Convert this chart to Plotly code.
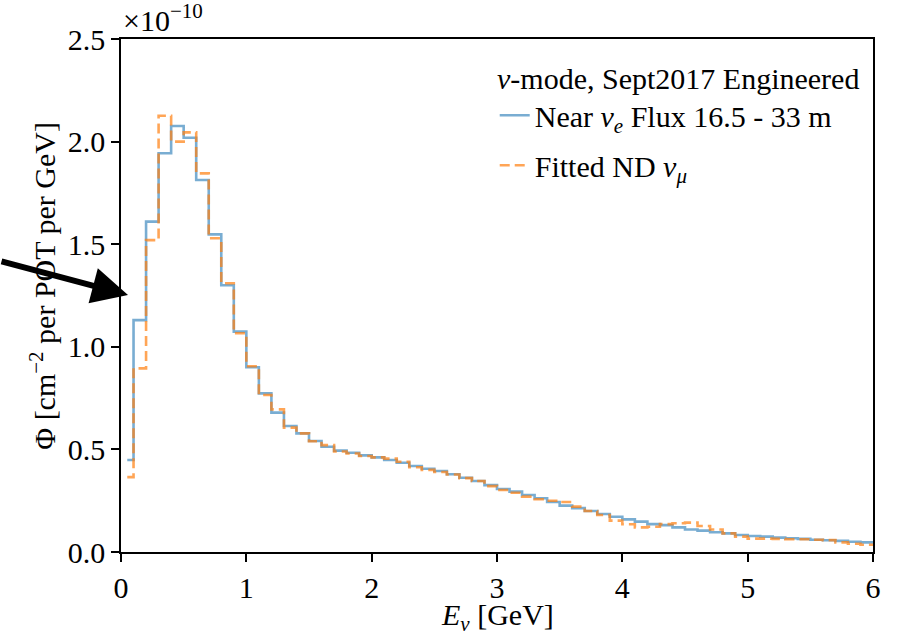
import numpy as np
import plotly.graph_objects as go

# Energy binning (GeV): 60 bins of 0.1 GeV
bin_edges = np.round(np.arange(0.0, 6.0001, 0.1), 2)

# Flux per bin, in units of 1e-10 cm^-2 per POT per GeV
near_nue_flux = [
    0.448, 1.13, 1.61, 1.943, 2.076, 2.019, 1.813, 1.548, 1.30, 1.074,
    0.90, 0.773, 0.679, 0.614, 0.578, 0.541, 0.513, 0.494, 0.484, 0.471,
    0.461, 0.448, 0.435, 0.419, 0.406, 0.395, 0.379, 0.362, 0.346, 0.326,
    0.307, 0.294, 0.278, 0.262, 0.244, 0.226, 0.214, 0.200, 0.185, 0.172,
    0.159, 0.148, 0.136, 0.131, 0.120, 0.110, 0.104, 0.096, 0.091, 0.083,
    0.078, 0.075, 0.070, 0.067, 0.064, 0.060, 0.057, 0.054, 0.050, 0.047,
]
fitted_nd_numu = [
    0.365, 0.895, 1.52, 2.126, 2.000, 2.045, 1.845, 1.529, 1.31, 1.066,
    0.905, 0.765, 0.695, 0.606, 0.578, 0.540, 0.521, 0.490, 0.480, 0.468,
    0.461, 0.455, 0.440, 0.413, 0.400, 0.390, 0.378, 0.360, 0.346, 0.321,
    0.302, 0.289, 0.270, 0.257, 0.250, 0.244, 0.221, 0.200, 0.180, 0.153,
    0.135, 0.120, 0.123, 0.136, 0.140, 0.143, 0.127, 0.110, 0.091, 0.075,
    0.065, 0.065, 0.064, 0.062, 0.062, 0.060, 0.058, 0.047, 0.040, 0.035,
]
x_ticks = [0, 1, 2, 3, 4, 5, 6]
y_ticks = [0.0, 0.5, 1.0, 1.5, 2.0, 2.5]
y_tick_text = ["0.0", "0.5", "1.0", "1.5", "2.0", "2.5"]

FONT = "'Liberation Serif', 'DejaVu Serif', serif"
FS = 30
BLUE = "rgba(31,119,180,0.6)"
ORANGE = "rgba(255,127,14,0.7)"


def mid_steps(values):
    """Bin centres and values for a where='mid' step line that runs on to the last edge."""
    centres = 0.5 * (bin_edges[:-1] + bin_edges[1:])
    width = bin_edges[1] - bin_edges[0]
    xs = list(centres) + [centres[-1] + width]
    ys = list(values) + [values[-1]]
    return xs, ys


fig = go.Figure()

xb, yb = mid_steps(near_nue_flux)
fig.add_trace(go.Scatter(
    x=xb, y=yb, mode="lines", line_shape="hvh",
    line=dict(color=BLUE, width=2.6), legendgroup="near",
    name="Near <i>ν</i><sub><i>e</i></sub> Flux 16.5 - 33 m",
))

xo, yo = mid_steps(fitted_nd_numu)
fig.add_trace(go.Scatter(
    x=xo, y=yo, mode="lines", line_shape="hvh",
    line=dict(color=ORANGE, width=2.6, dash="10px,5px"), legendgroup="fit",
    name="Fitted ND <i>ν</i><sub><i>μ</i></sub>",
))

axis_common = dict(
    showline=True, linecolor="black", linewidth=1.5, mirror=True,
    ticks="outside", ticklen=8, tickwidth=1.5, tickcolor="black",
    showgrid=False, zeroline=False, automargin=False,
    tickfont=dict(family=FONT, size=FS, color="black"),
)

fig.update_xaxes(range=[0, 6], tickvals=x_ticks,
                 ticktext=[str(t) for t in x_ticks], **axis_common)
fig.update_yaxes(range=[0, 2.5], tickvals=y_ticks,
                 ticktext=y_tick_text, **axis_common)

fig.update_layout(
    width=897, height=635,
    margin=dict(l=121, r=24, t=39, b=83),
    paper_bgcolor="white", plot_bgcolor="white",
    font=dict(family=FONT, size=FS, color="black"),
    showlegend=True,
    legend=dict(
        x=0.985, y=0.978, xanchor="right", yanchor="top",
        bgcolor="rgba(0,0,0,0)", borderwidth=0,
        title=dict(text="<i>ν</i>-mode, Sept2017 Engineered", side="top center",
                   font=dict(family=FONT, size=FS)),
        font=dict(family=FONT, size=FS),
        tracegroupgap=8,
    ),
    annotations=[
        # axis titles
        dict(text="<i>E</i><sub><i>ν</i></sub> [GeV]", xref="paper", yref="paper",
             x=0.5, y=-0.126, xanchor="center", yanchor="middle",
             showarrow=False, font=dict(family=FONT, size=FS)),
        dict(text="Φ [cm<sup>−2</sup> per POT per GeV]", xref="paper", yref="paper",
             x=-0.104, y=0.5185, xanchor="center", yanchor="middle", textangle=-90,
             showarrow=False, font=dict(family=FONT, size=FS)),
        # axis multiplier
        dict(text="×10<sup>−10</sup>", xref="paper", yref="paper",
             x=0.0, y=1.0, xanchor="left", yanchor="bottom",
             showarrow=False, font=dict(family=FONT, size=FS)),
        # pointer arrow at the y axis
        dict(text="", xref="paper", yref="paper", x=0.0093, y=0.501,
             ax=-140, ay=-34, showarrow=True, arrowhead=2, arrowsize=1.2,
             arrowwidth=6, arrowcolor="black"),
    ],
)

fig.write_html("out.html")
